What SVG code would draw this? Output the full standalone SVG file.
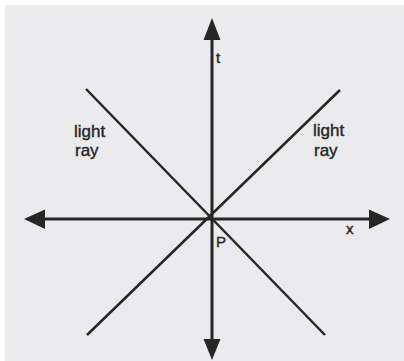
<svg xmlns="http://www.w3.org/2000/svg" width="404" height="361" viewBox="0 0 404 361">
<style>
.axis{stroke:#262626;stroke-width:3;fill:none}
.ray{stroke:#262626;stroke-width:2.5;fill:none}
.head{fill:#262626}
text{font-family:"Liberation Sans",Arial,sans-serif;fill:#262626;stroke:#262626;stroke-width:0.4}
.lbl{font-size:17px}
.ax{font-size:15px}
</style>
<rect x="0" y="0" width="404" height="361" fill="#ffffff"/>
<rect x="5" y="5" width="399" height="356" fill="#ebebee"/>
<g id="connectors">
<line class="axis" x1="212" y1="36" x2="212" y2="342"/>
<polygon class="head" points="212,18 203.5,40 220.5,40"/>
<polygon class="head" points="212,360 203.5,339 220.5,339"/>
<line class="axis" x1="42" y1="219" x2="372" y2="219"/>
<polygon class="head" points="24,219 45,209.5 45,229"/>
<polygon class="head" points="390,219 369,209.5 369,229"/>
<line class="ray" x1="86" y1="89" x2="325" y2="335"/>
<line class="ray" x1="340" y1="90" x2="87" y2="335"/>
</g>
<g id="label-t"><text class="ax" x="216" y="63">t</text></g>
<g id="label-x"><text class="ax" x="346" y="234">x</text></g>
<g id="label-P"><text class="ax" x="216" y="247">P</text></g>
<g id="label-left"><text class="lbl" x="74" y="137">light</text><text class="lbl" x="75" y="156">ray</text></g>
<g id="label-right"><text class="lbl" x="313" y="136">light</text><text class="lbl" x="314" y="156">ray</text></g>
</svg>
